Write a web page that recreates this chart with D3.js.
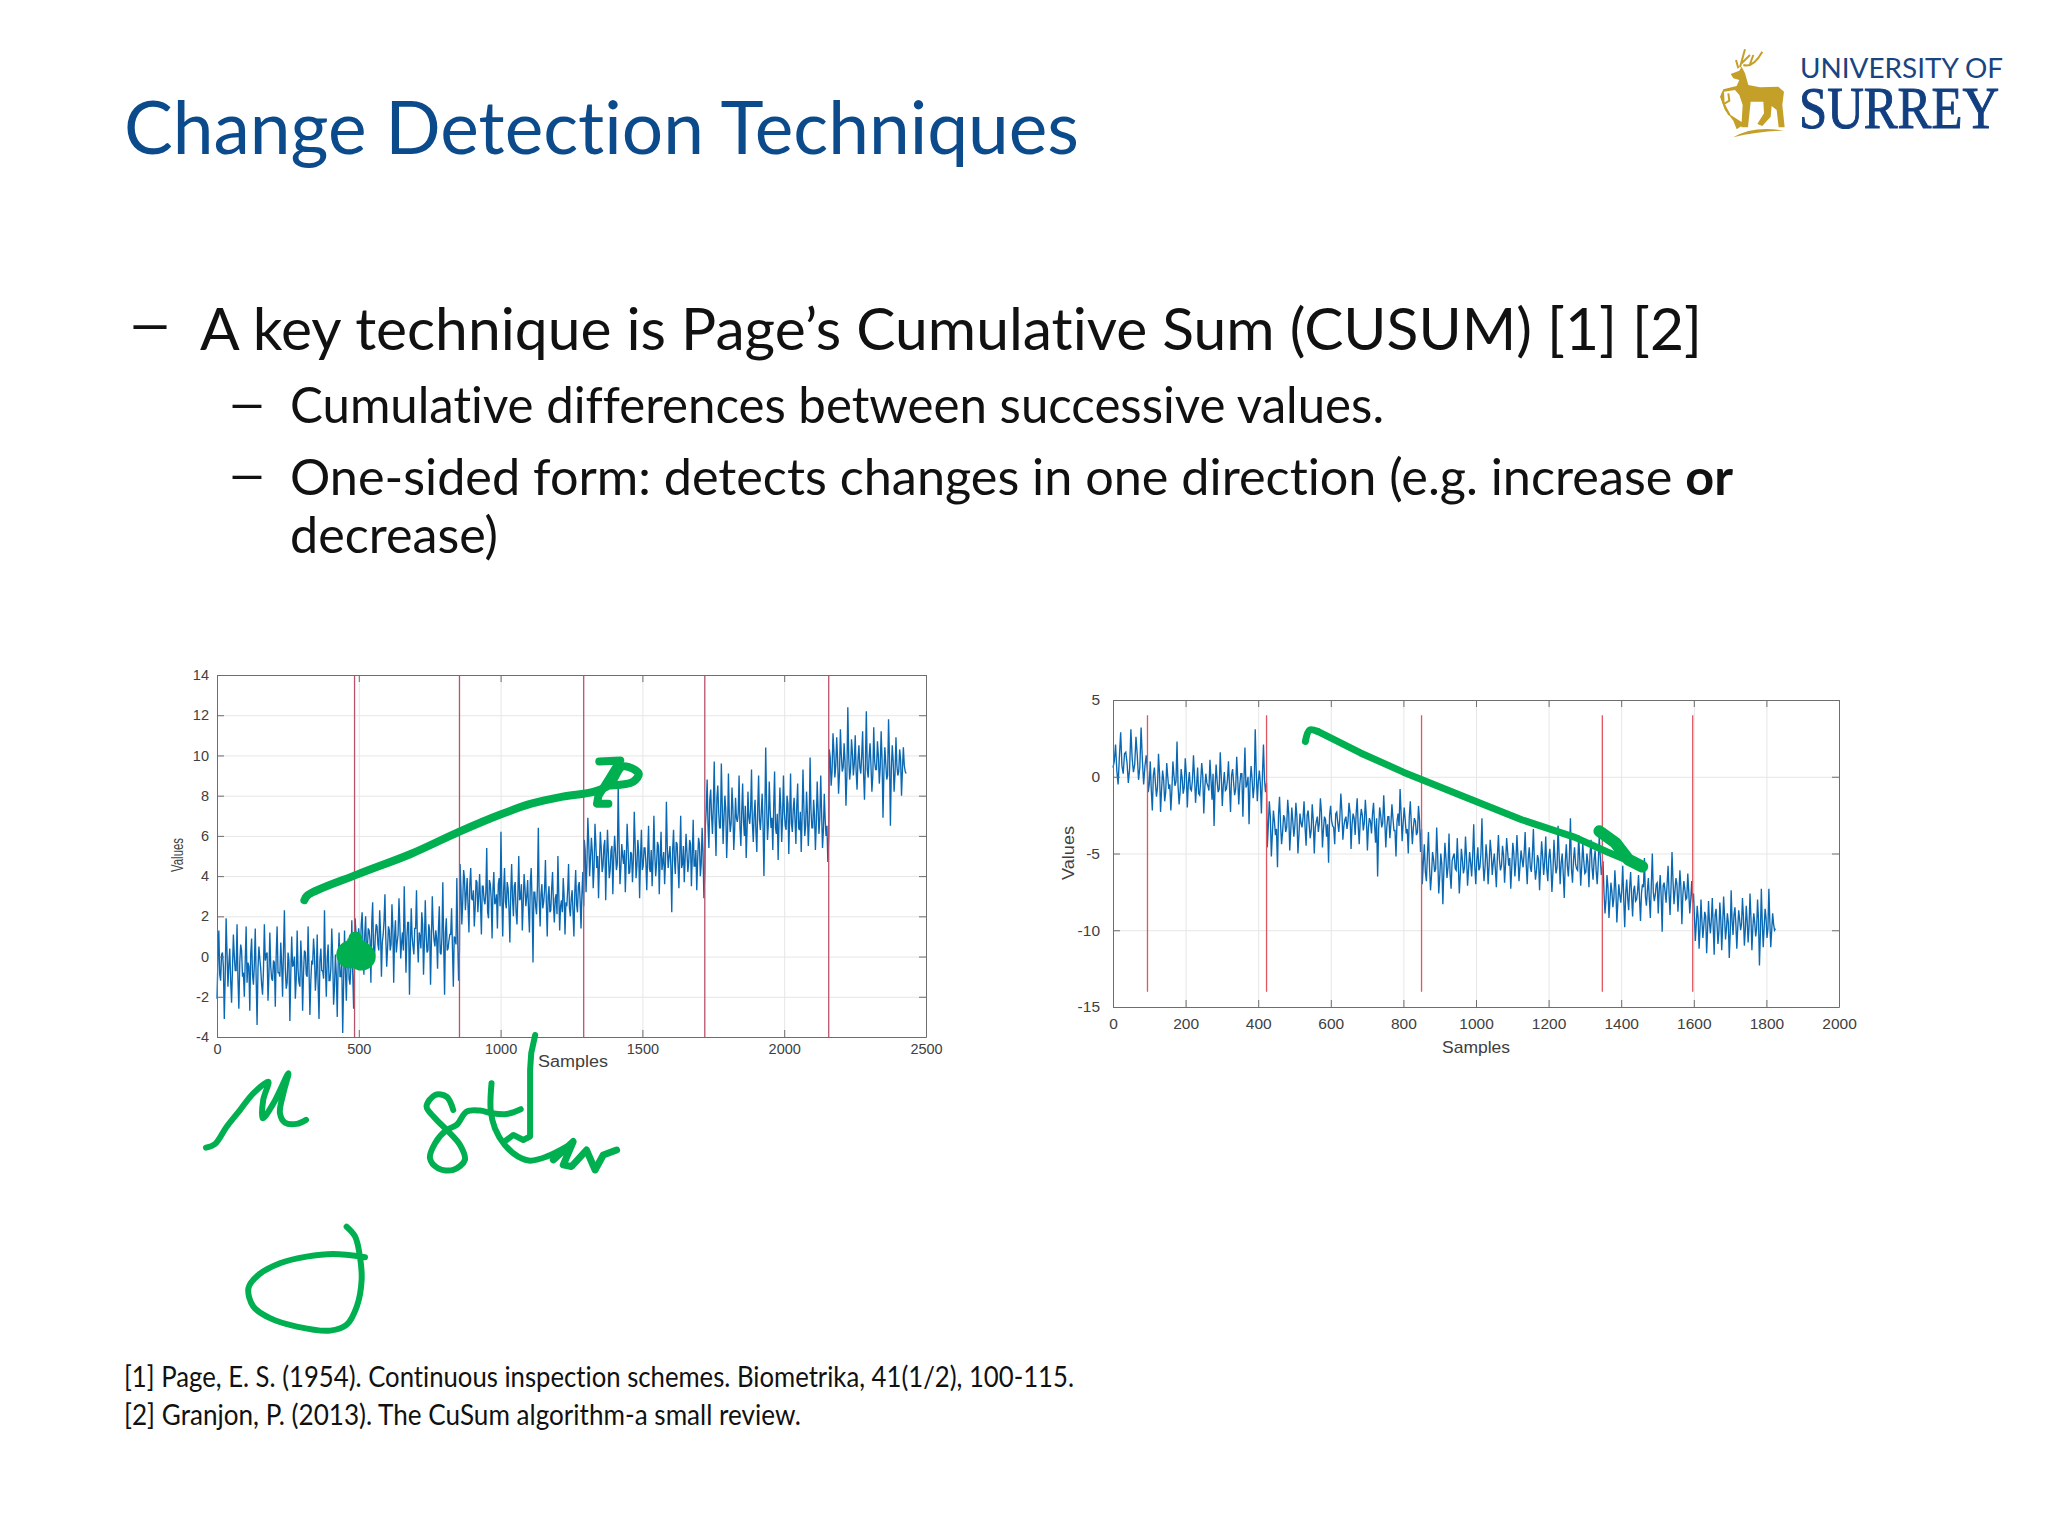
<!DOCTYPE html>
<html>
<head>
<meta charset="utf-8">
<script src="https://cdn.jsdelivr.net/npm/d3@7"></script>
<style>
  body { margin: 0; background: #fff; }
  text { font-family: Lato, "Open Sans", sans-serif; font-variant-ligatures: none; }
  .tick text, .axis-label { font-family: "Liberation Sans", Arial, sans-serif; fill: #404040; }
  .grid line { stroke: #e6e6e6; stroke-width: 1; }
  .grid path { display: none; }
  .frame path, .frame line { stroke: #6e6e6e; stroke-width: 1; }
</style>
</head>
<body>
<script>
// Slide text
const titleText = 'Change Detection Techniques';
const bulletMain = 'A key technique is Page\u2019s Cumulative Sum (CUSUM) [1] [2]';
const bulletSub1 = 'Cumulative differences between successive values.';
const bulletSub2 = 'One-sided form: detects changes in one direction (e.g. increase ';
const bulletSub2Bold = 'or';
const bulletSub3 = 'decrease)';
const refOne = '[1] Page, E. S. (1954). Continuous inspection schemes. Biometrika, 41(1/2), 100-115.';
const refTwo = '[2] Granjon, P. (2013). The CuSum algorithm-a small review.';

// Left chart: change points (samples), ticks
const leftBreaks = [0, 485, 855, 1293, 1720, 2157, 2430];
const leftXTicks = [0, 500, 1000, 1500, 2000, 2500];
const leftYTicks = [-4, -2, 0, 2, 4, 6, 8, 10, 12, 14];
// excursions read per segment
const leftSeg1 = [-2.1,1.3,-1.2,0.2,-3.1,1.9,-1.5,0.4,-2.3,1.1,-0.7,1.6,-2.6,0.6,-1.0,-2.0,1.5,-0.3,-2.7,0.9,
  -1.4,1.4,-3.4,0.5,-0.6,-1.9,1.6,0.1,-2.2,1.2,-1.1,-0.2,-2.5,1.5,-0.8,0.7,-2.0,2.3,-1.6,0.2,
  -3.2,1.0,-0.4,-2.1,1.3,-1.3,0.8,-2.7,0.3,-0.9,1.5,-2.9,-0.2,0.9,-1.7,1.1,-3.1,0.4,-0.7,2.3,
  -2.0,0.6,-1.2,1.4,-2.4,0.1,-3.0,1.2,-1.0,-3.8,1.3,-2.2,0.9,-1.4,1.8,-2.6];
const leftSeg2 = [1.9,-0.6,1.4,0.2,2.2,-0.9,2.0,0.4,1.3,-1.3,2.7,-0.2,1.6,0.6,2.3,-1.0,1.1,3.1,-0.5,1.5,
  0.3,2.6,-1.3,1.8,0.7,2.9,-0.1,1.2,3.5,-0.8,1.7,-1.9,2.4,0.5,1.4,3.3,-0.3,1.0,2.2,-0.9,
  2.8,0.2,1.6,-1.4,3.0,0.8,1.3,-0.6,2.5,0.1,3.7,-1.9,1.9,0.4,1.1,2.4,-1.5,0.9,3.9,-1.2];
const leftSeg3 = [4.6,1.6,4.3,2.3,3.9,1.2,4.4,2.8,1.5,3.8,2.2,4.1,1.1,3.5,2.6,5.4,1.9,3.6,0.9,4.2,2.7,1.4,3.9,6.2,
  1.0,4.4,2.4,3.4,0.7,4.6,2.0,3.7,1.6,5.0,2.9,1.3,4.1,2.5,3.8,1.2,4.4,-0.3,3.2,2.1,6.4,1.5,3.6,2.7,4.8,1.0,
  3.5,2.3,4.2,1.7,3.1,5.0,1.3,2.8,3.9,1.1,2.5,4.6,2.0,3.3,1.0,4.3,2.2,3.7,1.4,4.2];
const leftSeg4 = [5.8,3.2,6.9,4.0,5.9,3.4,6.6,4.4,2.9,6.2,4.2,5.5,2.8,6.3,3.9,5.3,3.1,6.0,4.3,8.5,
  3.6,5.6,4.6,3.2,6.6,4.1,5.2,3.7,7.2,3.9,5.8,2.9,6.3,4.5,5.4,3.3,6.5,4.2,3.5,7.0,
  4.0,5.7,3.1,6.2,4.7,3.6,7.7,4.4,5.5,2.2,6.3,4.1,5.6,3.4,7.0,4.6,3.7,6.1,4.2,5.8,
  3.5,6.8,4.5,3.3,5.9,4.0,6.4,2.9];
const leftSeg5 = [6.5,8.8,5.4,8.3,6.1,9.7,5.0,8.5,6.4,9.6,5.6,8.0,4.9,9.1,6.2,8.4,5.3,7.9,6.7,9.0,
  5.5,8.6,6.0,4.9,8.2,6.6,9.3,5.7,7.8,5.2,9.0,6.3,8.1,4.0,10.4,5.8,8.7,6.4,5.3,9.2,
  6.1,4.8,8.4,5.7,9.0,6.5,8.0,5.1,9.1,6.2,7.9,5.6,8.6,6.3,5.2,9.3,6.0,8.2,5.5,9.9,
  6.4,7.8,5.3,8.7,6.1,9.0,5.4,8.1,6.0,4.7];
const leftSeg6 = [10.3,8.5,11.1,8.9,10.9,8.1,11.3,9.2,10.6,7.5,12.4,8.8,10.8,9.0,11.0,8.3,10.5,9.1,11.2,7.8,12.2,8.9,10.6,
  8.2,11.4,9.3,10.7,8.6,11.2,6.9,10.4,8.8,11.8,6.5,10.5,8.2,10.9,9.0,10.3,8.0,10.4,9.2];
// samples in the dense middle of the band, between the excursions
const leftCore1 = [-0.2,-0.9,0.1,-0.5,-1.0,0.2,-0.4,-1.2,-0.6,0.0,-0.7,-1.1,-0.3,0.3,-0.8,-0.2,-1.3,-0.5,0.1,-0.9,
  -0.4,-1.1,-0.6,-0.1,-1.4,-0.7,-0.2,0.2,-0.9,-0.5,-1.2,-0.3,0.1,-0.8,-1.0,-0.4,0.3,-0.6,-1.3,-0.2,
  -0.9,-0.5,0.0,-1.1,-0.7,-1.5,-0.3,-0.8,0.2,-1.0,-0.6,-1.2,-0.4,0.1,-0.9,-1.4,-0.2,-0.7,-1.1,-0.5,
  -0.1,-1.2,-0.6,0.0,-1.5,-0.9,-0.4,-1.0,-0.3,-1.3,-0.7,-0.2,-1.1,-0.5,-0.8,-0.4];
const leftCore2 = [1.2,0.4,0.9,1.6,0.6,1.1,0.2,1.4,0.8,1.7,0.5,1.0,1.5,0.3,1.2,0.7,1.8,0.9,0.4,1.3,
  0.6,1.5,1.0,0.2,1.1,1.6,0.7,0.3,1.3,0.9,1.7,0.5,1.0,0.1,1.4,0.8,1.2,0.4,1.6,0.7,
  1.1,0.3,1.3,0.8,1.5,0.5,0.9,1.4,0.2,1.0,0.6,1.2,0.3,0.8,1.1,0.4,1.0,0.6,0.8,0.3];
const leftCore3 = [3.4,2.7,3.9,3.1,2.5,3.6,2.9,3.3,2.4,3.7,3.0,2.6,3.5,2.8,3.2,2.2,3.8,2.9,3.4,2.6,
  3.1,3.6,2.5,3.0,3.3,2.7,3.7,2.4,3.2,2.9,3.5,2.2,3.1,2.8,3.6,2.6,3.4,3.0,2.3,3.7,
  2.7,3.2,2.5,3.5,2.9,3.1,2.4,3.3,2.7,3.0,2.2,3.4,2.6,2.9,2.1,3.1,2.5,2.2,3.0,2.7,
  3.3,2.4,2.9,2.2,3.2,2.6,3.5,2.8,3.1,2.5];
const leftCore4 = [5.3,4.6,5.7,4.9,5.2,4.4,5.6,5.0,4.7,5.4,4.5,5.8,4.8,5.1,4.3,5.5,4.9,5.2,4.6,5.7,
  4.4,5.0,5.3,4.7,5.5,4.2,5.1,4.8,5.6,4.5,5.2,4.9,4.3,5.4,4.7,5.0,4.4,5.3,4.8,5.1,
  4.6,5.5,4.9,4.3,5.2,4.7,5.4,5.0,4.5,5.3,4.8,5.7,4.6,5.1,4.4,5.5,4.9,5.2,4.7,5.6,
  5.0,4.5,5.3,4.8,5.6,4.6,5.2,4.2];
const leftCore5 = [7.3,6.5,7.8,7.0,7.5,6.7,7.9,7.2,6.4,7.6,6.9,7.3,6.2,7.0,6.6,7.4,6.3,6.9,7.1,6.4,
  7.2,6.7,7.5,6.3,6.9,7.3,6.6,7.1,6.2,7.4,6.8,7.2,6.5,7.0,7.6,6.6,7.3,6.9,7.5,6.4,
  7.1,6.7,7.4,6.9,7.2,6.3,7.6,7.0,6.6,7.3,6.8,7.5,6.4,7.2,6.9,7.4,6.5,7.1,6.7,7.3,
  6.4,7.0,6.6,7.4,6.9,7.1,6.3,6.8,6.5,6.0];
const leftCore6 = [9.9,9.2,10.2,9.5,9.8,9.1,10.0,9.4,9.7,9.0,9.9,9.3,10.1,9.6,9.2,9.8,9.4,10.0,9.1,9.6,
  9.3,9.9,9.5,9.0,9.7,9.3,10.0,9.4,9.8,9.2,9.6,9.0,9.9,9.3,9.7,9.1,9.5,9.2,9.8,9.3,9.5,9.1];

// Right chart
const rightBreaks = [0, 95, 423, 850, 1348, 1597, 1825];
const rightXTicks = [0, 200, 400, 600, 800, 1000, 1200, 1400, 1600, 1800, 2000];
const rightYTicks = [-15, -10, -5, 0, 5];
const rightSeg1 = [0.6,2.1,-0.5,2.9,0.2,1.6,-0.4,3.1,0.3,2.6,-0.2,3.2,-0.5,1.4];
const rightSeg2 = [-1.0,1.0,-2.2,0.6,-1.3,1.5,-2.3,0.4,-1.6,0.9,-0.8,-2.2,1.0,-0.6,2.3,-1.8,0.5,-1.1,1.2,-2.0,
  0.3,-0.9,1.4,-1.7,0.6,-1.2,0.9,-2.4,0.2,-0.6,1.1,-1.5,-3.2,0.8,-1.0,1.6,-1.9,0.3,-0.8,1.0,
  -2.3,0.5,-1.2,1.3,-1.8,0.2,-2.6,1.9,-0.5,-3.1,0.7,-1.4,3.1,-1.6,0.4,-2.4,2.1,-1.0];
const rightSeg3 = [-4.6,-1.6,-5.2,-2.2,-3.8,-5.9,-1.3,-4.4,-2.5,-3.6,-1.5,-4.8,-2.0,-3.9,-1.7,-5.0,-2.4,-3.3,-1.6,-4.5,
  -2.2,-4.0,-1.8,-5.0,-2.9,-3.6,-1.4,-4.6,-2.6,-3.9,-5.6,-1.9,-3.2,-4.4,-2.3,-3.6,-1.1,-4.1,-2.8,-3.4,
  -1.7,-4.7,-2.4,-3.8,-1.4,-4.4,-2.1,-3.5,-1.5,-4.8,-2.7,-3.7,-1.7,-4.3,-6.5,-2.0,-3.3,-1.2,-4.6,-2.6,
  -4.0,-1.8,-3.5,-5.2,-2.4,-0.8,-4.2,-2.0,-3.7,-5.0,-1.6,-4.4,-2.7,-3.8,-1.9,-4.9];
const rightSeg4 = [-7.0,-4.4,-6.8,-3.6,-7.4,-4.9,-6.2,-3.3,-7.6,-5.0,-8.3,-4.3,-6.6,-3.7,-7.3,-5.2,-6.0,-4.0,-7.6,-4.7,
  -6.3,-3.9,-7.1,-4.9,-6.5,-3.1,-7.0,-4.6,-5.9,-2.7,-6.8,-4.4,-7.0,-4.1,-6.4,-5.0,-7.2,-3.8,-6.1,-4.5,
  -6.9,-4.0,-5.8,-7.3,-4.3,-6.5,-3.8,-6.8,-4.8,-5.9,-3.6,-7.0,-4.6,-6.2,-3.4,-6.7,-5.1,-7.4,-4.2,-6.4,
  -3.9,-6.8,-4.7,-7.5,-4.1,-6.3,-3.2,-7.0,-5.0,-7.9,-4.4,-6.5,-2.7,-6.9,-4.6,-6.0,-3.8,-7.1,-4.3,-6.3,
  -5.0,-7.2,-4.1,-6.7,-4.8,-7.0,-3.9,-6.4];
const rightSeg5 = [-5.5,-8.9,-6.4,-9.2,-6.9,-8.5,-6.1,-9.5,-7.0,-8.2,-5.8,-9.8,-6.7,-8.7,-6.2,-9.1,-7.1,-8.0,-6.4,-9.4,
  -7.0,-5.3,-8.4,-6.6,-9.2,-5.0,-8.1,-7.0,-8.9,-6.4,-10.1,-6.9,-8.2,-5.8,-9.0,-4.9,-8.3,-6.6,-8.8,-6.1,
  -9.6,-6.8,-8.0,-6.3,-8.9,-6.8];
const rightSeg6 = [-7.6,-10.7,-8.4,-11.2,-8.0,-10.5,-8.8,-11.5,-8.1,-10.2,-7.9,-11.6,-8.6,-10.9,-8.2,-11.3,-7.8,-10.6,-8.9,-11.8,
  -7.4,-10.3,-8.5,-11.2,-8.7,-10.0,-7.9,-11.0,-8.4,-10.8,-7.6,-11.3,-8.9,-10.4,-8.0,-12.3,-7.3,-11.1,-8.6,-10.5,
  -7.3,-11.1,-8.9,-10.0];
const rightCore1 = [1.0,0.4,1.3,0.7,1.5,0.9,0.5,1.2,0.8,1.4,0.6,1.1,0.7,0.3];
const rightCore2 = [-0.5,-0.9,0.1,-0.4,-0.7,0.2,-0.8,-0.2,-1.0,0.0,-0.5,-0.9,0.1,-0.3,-0.6,-1.0,-0.1,-0.7,0.2,-0.4,
  -0.8,-0.2,0.0,-0.6,-1.1,-0.3,0.1,-0.7,-0.4,-0.9,-0.2,0.2,-0.6,-0.3,-0.8,0.0,-0.5,-0.9,-0.2,-0.6,
  0.1,-0.4,-0.8,-0.1,-0.5,0.2,-0.3,-0.7,0.0,-0.4,-0.2,-0.6,0.3,-0.3,-0.5,0.1,-0.2,-0.4];
const rightCore3 = [-3.2,-2.6,-3.7,-2.9,-3.4,-2.5,-3.1,-3.6,-2.7,-3.3,-2.4,-3.5,-2.9,-3.2,-2.6,-3.8,-3.0,-2.7,-3.3,-2.5,
  -3.1,-3.5,-2.8,-3.3,-2.6,-3.0,-2.3,-3.4,-2.8,-3.1,-2.5,-2.9,-3.3,-2.4,-3.0,-2.7,-2.2,-3.2,-2.6,-2.9,
  -2.3,-3.1,-2.7,-2.4,-3.2,-2.8,-2.5,-3.0,-2.6,-3.3,-2.9,-2.4,-3.1,-2.7,-3.4,-2.5,-3.0,-2.8,-3.3,-2.6,
  -3.1,-2.7,-3.5,-2.9,-3.2,-2.4,-3.0,-2.8,-3.4,-2.6,-3.1,-3.3,-2.9,-3.6,-2.8,-3.4];
const rightCore4 = [-5.6,-6.2,-5.1,-5.8,-6.4,-5.4,-6.0,-5.2,-6.5,-5.7,-6.1,-5.3,-5.9,-6.3,-5.5,-5.0,-6.1,-5.7,-6.3,-5.4,
  -5.9,-5.2,-6.0,-5.6,-5.1,-5.8,-5.4,-6.1,-5.0,-5.5,-5.9,-5.3,-5.7,-4.9,-5.6,-6.0,-5.2,-5.4,-5.8,-5.1,
  -5.6,-4.9,-5.3,-5.9,-5.0,-5.5,-5.2,-5.8,-5.4,-5.0,-5.7,-5.3,-5.9,-5.1,-5.6,-6.1,-5.4,-5.8,-5.2,-5.5,
  -6.0,-5.3,-5.7,-6.2,-5.4,-5.9,-5.1,-5.6,-6.3,-5.5,-5.8,-5.2,-6.0,-5.4,-5.7,-6.1,-5.3,-5.8,-5.5,-6.2,
  -5.6,-5.1,-5.9,-5.4,-6.1,-5.7,-5.2,-5.9];
const rightCore5 = [-7.6,-8.0,-7.2,-8.1,-7.5,-7.9,-7.3,-8.2,-7.7,-7.4,-8.0,-7.6,-7.9,-7.2,-7.8,-7.4,-8.1,-7.5,-7.9,-7.6,
  -7.2,-7.8,-7.4,-8.0,-7.0,-7.5,-7.7,-6.9,-7.4,-7.8,-7.1,-7.5,-7.0,-7.6,-7.2,-6.8,-7.4,-7.0,-7.6,-7.2,
  -7.7,-7.3,-7.9,-7.5,-8.0,-8.2];
const rightCore6 = [-9.0,-9.6,-9.2,-9.9,-9.4,-9.7,-9.1,-10.0,-9.5,-9.3,-9.8,-9.0,-9.6,-10.1,-9.3,-9.7,-9.1,-9.9,-9.5,-10.2,
  -9.4,-9.0,-9.6,-9.8,-9.3,-9.6,-9.1,-10.0,-9.4,-9.7,-9.2,-9.8,-9.5,-9.9,-9.3,-10.2,-9.5,-9.8,-9.2,-9.9,
  -9.4,-10.0,-9.6,-9.9];

// Pen annotations, in each chart's own units [sample, value]
const inkLeftArrow = [[308,2.8],[320,3.05],[498,4.1],[683,5.1],[853,6.2],[997,7.05],[1108,7.6],[1219,7.95],[1330,8.2],[1385,8.55],[1431,9.45],[1487,9.1],[1468,8.7],[1385,8.5]];
const inkLeftHeadTop = [[1348,9.7],[1422,9.75],[1385,8.9],[1345,8.0],[1340,7.6],[1380,7.6]];
const inkLeftBlob = [[470,0.1],[490,0.2],[510,0.0]];
const inkLeftBump = [[486,0.6],[488,0.9]];
const inkLetterM = [[-39,-9.5],[-7,-9.32],[34,-8.46],[81,-7.63],[128,-6.8],[181,-6.22],[163,-7.13],[161,-8.04],[199,-7.3],[252,-5.8],[234,-6.8],[222,-7.79],[240,-8.26],[281,-8.32],[314,-8.12]];
const inkEight = [[833,-7.63],[810,-6.97],[769,-6.88],[739,-7.46],[769,-8.04],[810,-8.62],[857,-9.37],[874,-10.11],[833,-10.61],[780,-10.53],[751,-10.03],[769,-9.28],[810,-8.62],[845,-8.37],[880,-7.71],[927,-7.66],[968,-7.79],[1021,-7.83],[1071,-7.59]];
const inkLetterT = [[968,-6.3],[965,-7.63],[980,-8.54],[1015,-9.37],[1062,-9.95],[1104,-10.15],[1162,-9.95],[1233,-9.45]];
const inkTall = [[1122,-3.9],[1108,-4.8],[1104,-5.64],[1104,-8.95],[1080,-9.12],[1045,-8.87],[1021,-9.12]];
const inkDev = [[1186,-10.11],[1256,-9.2],[1221,-10.36],[1250,-10.44],[1303,-9.62],[1333,-10.61],[1362,-9.87],[1409,-9.62]];
const inkSigma = [[457,-13.43],[487,-13.92],[504,-14.92],[510,-16.08],[493,-17.4],[457,-18.31],[399,-18.6],[281,-18.4],[187,-17.98],[128,-17.4],[111,-16.49],[146,-15.83],[222,-15.25],[316,-14.92],[410,-14.79],[522,-14.95]];
const inkRightHook = [[530,2.3],[542,3.05],[564,2.95]];
const inkRightArrow = [[564,2.95],[682,1.55],[800,0.3],[978,-1.4],[1126,-2.8],[1273,-3.95],[1362,-4.9],[1458,-5.85]];
const inkRightHead = [[1340,-3.55],[1384,-4.3],[1420,-5.4],[1458,-5.85]];

const inkColor = '#00b050';
const svg = d3.select('body').append('svg').attr('width', 2048).attr('height', 1536);
svg.append('rect').attr('width', 2048).attr('height', 1536).attr('fill', '#ffffff');

// Texts
function addText(str, x, y, size, fill, len) {
  return svg.append('text').attr('x', x).attr('y', y)
    .attr('font-size', size).attr('fill', fill)
    .attr('textLength', len).attr('lengthAdjust', 'spacingAndGlyphs').text(str);
}
addText(titleText, 124, 154, 74, '#0b4a8b', 955);
addText('\u2013', 126, 344, 58, '#111', 48);
addText(bulletMain, 200, 350, 58, '#111', 1502);
addText('\u2013', 226, 421, 50, '#111', 42);
addText(bulletSub1, 290, 423, 50, '#111', 1094);
addText('\u2013', 226, 492, 50, '#111', 42);
const sub2 = addText(bulletSub2, 290, 495, 50, '#111', 1443);
sub2.append('tspan').attr('font-weight', 700).text(bulletSub2Bold);
addText(bulletSub3, 290, 553, 50, '#111', 208);
addText(refOne, 124, 1387, 28, '#111', 950);
addText(refTwo, 124, 1425, 28, '#111', 677);

// Logo
const logo = svg.append('g').attr('transform', 'translate(1700,30) scale(0.3333)');
logo.append('path').attr('fill', '#c5a028')
  .attr('d', 'M92,132 L118,122 L125,110 L135,130 L145,165 L180,172 L235,170 L252,185 L247,225 L254,292 L236,292 L230,240 L215,228 L212,260 L187,288 L172,282 L192,250 L190,215 L152,215 L144,292 L124,292 L128,225 L118,195 L105,180 L72,185 L74,222 L92,255 L112,268 L134,282 L110,298 L100,272 L75,240 L60,200 L70,178 L110,168 L118,150 L100,145 Z M100,322 Q160,286 252,302 Q170,304 100,322 Z');
logo.append('path').attr('fill', 'none').attr('stroke', '#c5a028').attr('stroke-width', 6)
  .attr('d', 'M115,115 L108,90 M120,112 L135,58 M125,100 L150,75 M130,105 C150,112 170,95 187,65 M150,102 L160,75 M68,190 Q62,215 88,255 M85,190 L88,212 L72,222');
svg.append('text').attr('x', 1800).attr('y', 78).attr('font-size', 26).attr('fill', '#1a4480')
  .attr('textLength', 203).attr('lengthAdjust', 'spacingAndGlyphs').text('UNIVERSITY OF');
svg.append('text').attr('x', 1799).attr('y', 128).attr('font-size', 60).attr('fill', '#123f80')
  .attr('stroke', '#123f80').attr('stroke-width', 1)
  .style('font-family', '"Liberation Serif", serif')
  .attr('textLength', 200).attr('lengthAdjust', 'spacingAndGlyphs').text('SURREY');

// One MATLAB style panel
function drawChart(c) {
  const x = d3.scaleLinear().domain(c.xDomain).range([c.left, c.right]);
  const y = d3.scaleLinear().domain(c.yDomain).range([c.bottom, c.top]);
  const w = c.right - c.left, h = c.bottom - c.top;

  svg.append('g').attr('class', 'grid').attr('transform', `translate(0,${c.bottom})`)
    .call(d3.axisBottom(x).tickValues(c.xTicks).tickSize(-h).tickFormat(''));
  svg.append('g').attr('class', 'grid').attr('transform', `translate(${c.left},0)`)
    .call(d3.axisLeft(y).tickValues(c.yTicks).tickSize(-w).tickFormat(''));

  // signal: excursion, band middle, excursion ... spread between change points
  const points = c.segments.flatMap((seg, i) => {
    const merged = seg.flatMap((v, k) => [v, c.cores[i][k]]);
    const sx = d3.scaleLinear().domain([0, merged.length - 1]).range([c.breaks[i] + (i ? 2 : 0), c.breaks[i + 1]]);
    return merged.map((v, k) => [sx(k), v]);
  });
  svg.append('path').datum(points).attr('fill', 'none')
    .attr('stroke', '#0a68b2').attr('stroke-width', c.lineWidth)
    .attr('d', d3.line().x(d => x(d[0])).y(d => y(d[1])));

  // change points
  svg.append('g').selectAll('line').data(c.breaks.slice(1, -1)).join('line')
    .attr('x1', d => x(d)).attr('x2', d => x(d))
    .attr('y1', y(c.redRange[0])).attr('y2', y(c.redRange[1]))
    .attr('stroke', c.redColor).attr('stroke-width', 1.3);

  const fmt = d => String(d);
  const bottom = svg.append('g').attr('class', 'frame').attr('transform', `translate(0,${c.bottom})`)
    .call(d3.axisBottom(x).tickValues(c.xTicks).tickFormat(fmt).tickSize(-7).tickPadding(c.padX + 7).tickSizeOuter(0));
  const left = svg.append('g').attr('class', 'frame').attr('transform', `translate(${c.left},0)`)
    .call(d3.axisLeft(y).tickValues(c.yTicks).tickFormat(fmt).tickSize(-7).tickPadding(c.padY + 7).tickSizeOuter(0));
  svg.append('g').attr('class', 'frame').attr('transform', `translate(0,${c.top})`)
    .call(d3.axisTop(x).tickValues(c.xTicks).tickSize(-7).tickSizeOuter(0).tickFormat(''));
  svg.append('g').attr('class', 'frame').attr('transform', `translate(${c.right},0)`)
    .call(d3.axisRight(y).tickValues(c.yTicks).tickSize(-7).tickSizeOuter(0).tickFormat(''));
  bottom.selectAll('text').attr('font-size', c.fontSize);
  left.selectAll('text').attr('font-size', c.fontSize);

  svg.append('text').attr('class', 'axis-label').attr('x', c.xLabelX).attr('y', c.xLabelY)
    .attr('text-anchor', 'middle').attr('font-size', c.labelSize)
    .attr('textLength', c.xLabelLen).attr('lengthAdjust', 'spacingAndGlyphs').text('Samples');
  svg.append('text').attr('class', 'axis-label').attr('text-anchor', 'middle')
    .attr('transform', `translate(${c.yLabelX},${c.yLabelY}) rotate(-90)`)
    .attr('font-size', c.labelSize)
    .attr('textLength', c.yLabelLen).attr('lengthAdjust', 'spacingAndGlyphs').text('Values');
  return { x, y };
}

function drawInk(scales, pts, width, curve) {
  svg.append('path').datum(pts).attr('fill', 'none').attr('stroke', inkColor)
    .attr('stroke-width', width).attr('stroke-linecap', 'round').attr('stroke-linejoin', 'round')
    .attr('d', d3.line().curve(curve || d3.curveCatmullRom).x(d => scales.x(d[0])).y(d => scales.y(d[1])));
}

const leftPanel = drawChart({
  left: 217, right: 926, top: 675, bottom: 1037,
  xDomain: [0, 2500], yDomain: [-4, 14], xTicks: leftXTicks, yTicks: leftYTicks,
  breaks: leftBreaks,
  segments: [leftSeg1, leftSeg2, leftSeg3, leftSeg4, leftSeg5, leftSeg6],
  cores: [leftCore1, leftCore2, leftCore3, leftCore4, leftCore5, leftCore6],
  redRange: [-4, 14], redColor: '#b9536a', lineWidth: 1.35, fontSize: 14.5, padX: 0, padY: 1,
  labelSize: 16, xLabelX: 573, xLabelY: 1067, xLabelLen: 70, yLabelX: 183, yLabelY: 855, yLabelLen: 34
});
const rightPanel = drawChart({
  left: 1113, right: 1839, top: 700, bottom: 1007,
  xDomain: [0, 2000], yDomain: [-15, 5], xTicks: rightXTicks, yTicks: rightYTicks,
  breaks: rightBreaks,
  segments: [rightSeg1, rightSeg2, rightSeg3, rightSeg4, rightSeg5, rightSeg6],
  cores: [rightCore1, rightCore2, rightCore3, rightCore4, rightCore5, rightCore6],
  redRange: [-14, 4], redColor: '#e0555f', lineWidth: 1.35, fontSize: 15.5, padX: 4, padY: 6,
  labelSize: 17, xLabelX: 1476, xLabelY: 1053, xLabelLen: 68, yLabelX: 1074, yLabelY: 853, yLabelLen: 54
});

drawInk(leftPanel, inkLeftArrow, 8);
drawInk(leftPanel, inkLeftHeadTop, 8, d3.curveLinear);
drawInk(leftPanel, inkLeftBlob, 28);
drawInk(leftPanel, inkLeftBump, 14);
drawInk(leftPanel, inkLetterM, 6);
drawInk(leftPanel, inkEight, 6);
drawInk(leftPanel, inkLetterT, 6);
drawInk(leftPanel, inkTall, 6, d3.curveLinear);
drawInk(leftPanel, inkDev, 7, d3.curveLinear);
drawInk(leftPanel, inkSigma, 6);
drawInk(rightPanel, inkRightHook, 7);
drawInk(rightPanel, inkRightArrow, 7, d3.curveLinear);
drawInk(rightPanel, inkRightHead, 12, d3.curveLinear);
</script>
</body>
</html>
